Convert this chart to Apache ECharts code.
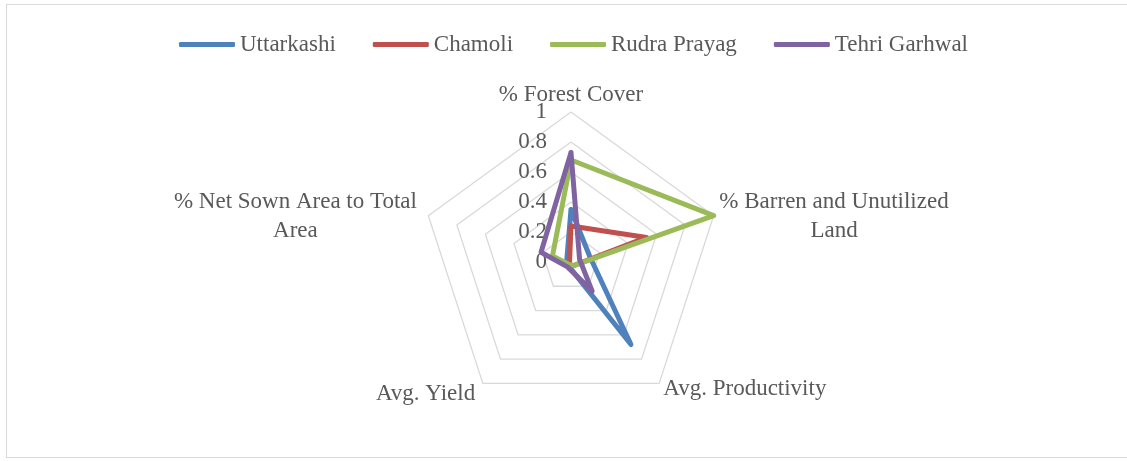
<!DOCTYPE html>
<html>
<head>
<meta charset="utf-8">
<script src="https://cdn.jsdelivr.net/npm/echarts@6/dist/echarts.min.js"></script>
<style>
html,body{margin:0;padding:0;background:#fff;}
#frame{position:absolute;left:6px;top:4px;width:1140px;height:454px;border:1.5px solid #d9d9d9;box-sizing:border-box;}
#chart{position:absolute;left:0;top:0;width:1127px;height:461px;}
</style>
</head>
<body>
<div id="frame"></div>
<div id="chart"></div>
<script>
// Indicator order as ECharts places them (counter-clockwise from top)
const indicators = ['% Forest Cover', '% Net Sown Area to Total Area', 'Avg. Yield', 'Avg. Productivity', '% Barren and Unutilized Land'];
const seriesNames = ['Uttarkashi', 'Chamoli', 'Rudra Prayag', 'Tehri Garhwal'];
const uttarkashi = [0.35, 0.03, 0.03, 0.68, 0.13];
const chamoli = [0.24, 0.01, 0.02, 0.03, 0.53];
const rudraPrayag = [0.68, 0.13, 0.02, 0.03, 1.0];
const tehriGarhwal = [0.73, 0.21, 0.04, 0.24, 0.06];
const colors = ['#4F81BD', '#C0504D', '#9BBB59', '#8064A2'];

const font = '"Liberation Serif", "Times New Roman", "DejaVu Serif", serif';
const txt = '#595959';
const fs = 23;
const nameGaps = [6, 12, 13, 7, 6];
const chart = echarts.init(document.getElementById('chart'));
const seriesValues = [uttarkashi, chamoli, rudraPrayag, tehriGarhwal];

const base = {align: 'center', fontFamily: font, fontSize: fs, color: txt, lineHeight: 29};
chart.setOption({
  animation: false,
  color: colors,
  legend: {
    top: 28,
    left: 174,
    itemWidth: 56,
    itemHeight: 5,
    itemGap: 37,
    icon: 'roundRect',
    textStyle: {fontFamily: font, fontSize: fs, color: txt},
    data: seriesNames
  },
  radar: {
    center: [571, 262],
    radius: 150,
    shape: 'polygon',
    splitNumber: 5,
    axisName: {
      fontFamily: font, fontSize: fs, color: txt,
      formatter: function (name) {
        if (name === '% Barren and Unutilized Land') return '{a1|% Barren and Unutilized}\n{a2|Land}';
        if (name === '% Net Sown Area to Total Area') return '{b1|% Net Sown Area to Total}\n{b2|Area}';
        return name;
      },
      rich: {
        a1: Object.assign({}, base, {padding: [6, 0, 0, 0]}),
        a2: Object.assign({}, base, {padding: [6, 0, 0, 0]}),
        b1: Object.assign({}, base, {padding: [10, 0, 0, 0]}),
        b2: Object.assign({}, base, {padding: [10, 0, 0, 0]})
      }
    },
    splitLine: {lineStyle: {color: '#d9d9d9', width: 1.3}},
    splitArea: {show: false},
    axisLine: {show: false},
    axisTick: {show: false},
    axisLabel: {show: false, fontFamily: font, fontSize: fs, color: txt, margin: 24, padding: [5, 0, 0, 0]},
    indicator: indicators.map(function (n, i) {
      const o = {name: n, min: 0, max: 1, nameGap: nameGaps[i], nameMoveOverlap: false};
      if (i === 0) o.axisLabel = {show: true, showMinLabel: true, showMaxLabel: true};
      return o;
    })
  },
  series: [{
    type: 'radar',
    symbol: 'none',
    lineStyle: {width: 5, join: 'round', cap: 'round'},
    data: seriesNames.map(function (n, i) {
      return {name: n, value: seriesValues[i], lineStyle: {color: colors[i], width: 5, join: 'round'}, itemStyle: {color: colors[i]}};
    })
  }]
});
</script>
</body>
</html>
